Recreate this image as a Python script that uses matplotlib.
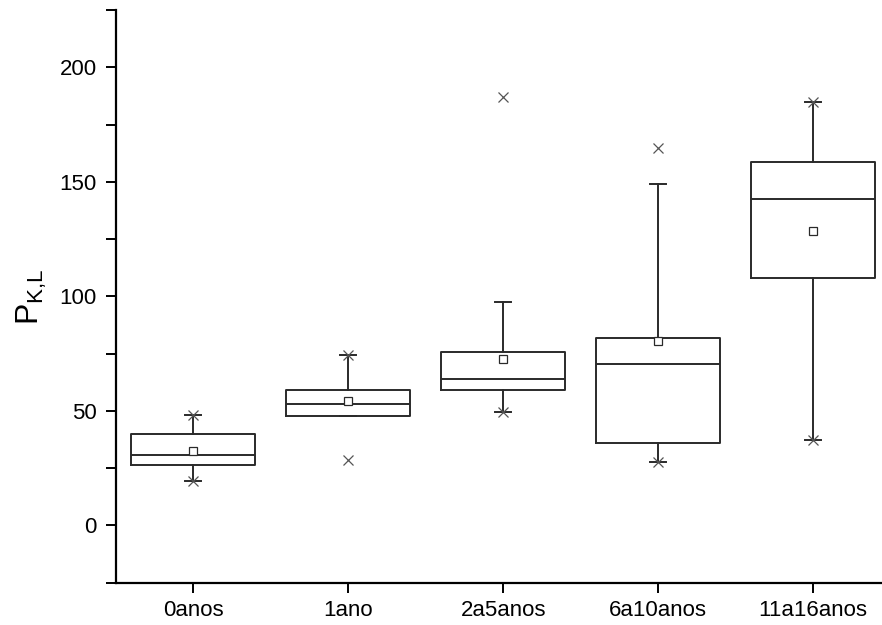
import matplotlib
matplotlib.use("Agg")
import matplotlib.pyplot as plt
from matplotlib.ticker import MultipleLocator

plt.rcParams['font.family'] = ['Liberation Sans', 'DejaVu Sans']
plt.rcParams['mathtext.fontset'] = 'custom'
plt.rcParams['mathtext.rm'] = 'Liberation Sans'
plt.rcParams['mathtext.it'] = 'Liberation Sans'

categories = ['0anos', '1ano', '2a5anos', '6a10anos', '11a16anos']
q1 = [26.3, 47.7, 59.1, 36.0, 108.0]
median = [30.8, 52.8, 63.8, 70.6, 142.5]
q3 = [40.0, 59.2, 75.7, 81.7, 158.6]
mean = [32.7, 54.3, 72.5, 80.5, 128.7]
whis_low = [19.3, 47.7, 49.6, 27.6, 37.5]
whis_high = [48.4, 74.3, 97.6, 149.1, 184.8]
min_vals = [19.3, 28.4, 49.6, 27.6, 37.5]
max_vals = [48.4, 74.3, 187.0, 164.9, 184.8]

fig = plt.figure(figsize=(8.82, 6.25), dpi=100)
ax = fig.add_axes([115.7/882, 1 - 582.7/625, (890.7-115.7)/882, (582.7-10)/625])

stats = []
for i, c in enumerate(categories):
    stats.append(dict(label=c, q1=q1[i], med=median[i], q3=q3[i], mean=mean[i],
                      whislo=whis_low[i], whishi=whis_high[i], fliers=[]))

positions = list(range(1, len(categories) + 1))
lc = '#2a2a2a'
ax.bxp(stats, positions=positions, widths=0.8, showmeans=True, showfliers=False,
       capwidths=0.1,
       boxprops=dict(color=lc, linewidth=1.4),
       medianprops=dict(color=lc, linewidth=1.4),
       whiskerprops=dict(color=lc, linewidth=1.4),
       capprops=dict(color=lc, linewidth=1.4),
       meanprops=dict(marker='s', markerfacecolor='white', markeredgecolor=lc,
                      markersize=5.5, markeredgewidth=0.9))

ax.plot(positions, min_vals, linestyle='none', marker='x', color='#555555',
        markersize=7, markeredgewidth=0.9)
ax.plot(positions, max_vals, linestyle='none', marker='x', color='#555555',
        markersize=7, markeredgewidth=0.9)

ax.set_xlim(0.5, 5.5)
ax.set_ylim(-25, 225)
ax.set_xticks(positions)
ax.set_xticklabels(categories)
ax.yaxis.set_major_locator(MultipleLocator(50))
ax.yaxis.set_minor_locator(MultipleLocator(25))

for s in ['top', 'right']:
    ax.spines[s].set_visible(False)
for s in ['left', 'bottom']:
    ax.spines[s].set_linewidth(1.6)
    ax.spines[s].set_color('black')

ax.tick_params(axis='both', which='both', direction='out', length=7.5, width=1.4,
               labelsize=16, colors='black')
ax.tick_params(axis='y', pad=6)
ax.tick_params(axis='x', pad=5)
ax.tick_params(axis='x', which='minor', bottom=False)

ax.set_ylabel(r'$\mathrm{P}_{\mathrm{K{,}L}}$', fontsize=23, labelpad=8)

fig.savefig('out.png', dpi=100)
